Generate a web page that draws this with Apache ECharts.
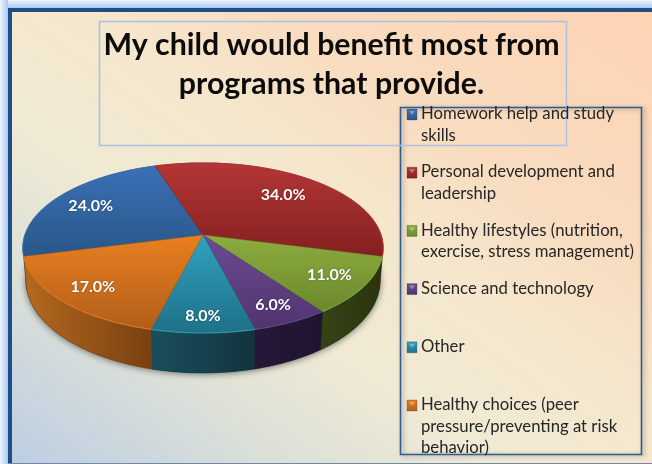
<!DOCTYPE html>
<html>
<head>
<meta charset="utf-8">
<style>html,body{margin:0;padding:0;background:#fff}#chart{width:652px;height:464px}</style>
<script src="https://cdn.jsdelivr.net/npm/echarts@6/dist/echarts.min.js"></script>
</head>
<body>
<div id="chart"></div>
<script>
// Survey answers, in percent
const categories = [
  'Homework help and study\nskills',
  'Personal development and\nleadership',
  'Healthy lifestyles (nutrition,\nexercise, stress management)',
  'Science and technology',
  'Other',
  'Healthy choices (peer\npressure/preventing at risk\nbehavior)'
];
const shares = [24, 34, 11, 6, 8, 17];
const titleLines = ['My child would benefit most from', 'programs that provide.'];

// Slice palettes: top-face gradient, then side-wall gradient
const faceLight = ['#3b70b6', '#b43636', '#8cad3f', '#6c4b92', '#30a2c0', '#ea7f20'];
const faceDark  = ['#285787', '#842020', '#6b892c', '#50346e', '#1f7088', '#b15e1a'];
const wallLight = ['#2a4d78', '#661c1c', '#364414', '#261838', '#1a4e5c', '#b5691f'];
const wallDark  = ['#1e3a5c', '#4e1414', '#2a340e', '#1f1430', '#12343e', '#784010'];

// How far out along each slice's middle its percentage sits (1 = rim)
const labelReach = [0.76, 0.71, 0.8, 0.82, 0.85, 0.8];
const firstSliceAngle = 255.6;

// Perspective view of the disc: the far side is foreshortened, the hub sits above the ellipse centre
const hubX = 203;
const topPlane = { a: 178, b: 83, y0: 235, k: 0.153 };
const basePlane = { a: 175, b: 90, y0: 266.7, k: 0.153 };

function project(plane, deg, r) {
  const t = deg * Math.PI / 180;
  const u = r * Math.sin(t), v = -r * Math.cos(t);
  const w = 1 - plane.k * v;
  return [hubX + plane.a * u / w, plane.y0 + plane.b * v / w];
}
function arc(plane, from, to) {
  const n = Math.max(2, Math.ceil((to - from) / 1.5));
  const pts = [];
  for (let i = 0; i <= n; i++) pts.push(project(plane, from + (to - from) * i / n, 1));
  return pts;
}
const total = shares.reduce((s, v) => s + v, 0);
function sliceRange(i) {
  let start = firstSliceAngle;
  for (let j = 0; j < i; j++) start += shares[j] / total * 360;
  return [start, start + shares[i] / total * 360];
}
const grad = (x2, y2, c1, c2) => new echarts.graphic.LinearGradient(0, 0, x2, y2, [
  { offset: 0, color: c1 }, { offset: 1, color: c2 }
]);
const rows = categories.map((name, i) => ({ name, value: shares[i] }));

function renderWall(params, api) {
  const i = params.dataIndex;
  const [from, to] = sliceRange(i);
  const children = [];
  if (i === 0) {
    // soft contact shadow under the whole disc
    children.push({
      type: 'polygon',
      shape: { points: arc(basePlane, 0, 360) },
      style: { fill: '#444', shadowBlur: 7, shadowColor: 'rgba(40,40,40,0.65)', shadowOffsetY: 1 }
    });
  }
  children.push({
    type: 'polygon',
    shape: { points: arc(topPlane, from, to).concat(arc(basePlane, from, to).reverse()) },
    style: { fill: grad(1, 0, wallLight[i], wallDark[i]), stroke: wallDark[i], lineWidth: 0.5 }
  });
  return { type: 'group', children };
}

function renderFace(params) {
  const i = params.dataIndex;
  const [from, to] = sliceRange(i);
  const rim = arc(topPlane, from, to);
  return {
    type: 'group',
    children: [
      {
        type: 'polygon',
        shape: { points: [project(topPlane, 0, 0)].concat(rim) },
        style: { fill: grad(0, 1, faceLight[i], faceDark[i]), stroke: faceDark[i], lineWidth: 0.4 }
      },
      {
        type: 'polyline',
        shape: { points: rim },
        style: { fill: null, stroke: faceLight[i], lineWidth: 1.2, opacity: 0.8 }
      }
    ]
  };
}

function renderValueLabel(params) {
  const i = params.dataIndex;
  const [from, to] = sliceRange(i);
  const [x, y] = project(topPlane, (from + to) / 2, labelReach[i]);
  return {
    type: 'text',
    x, y,
    style: {
      text: shares[i].toFixed(1) + '%',
      fill: '#fff',
      font: 'bold 16px Lato, sans-serif',
      align: 'center',
      verticalAlign: 'middle',
      textShadowColor: 'rgba(0,0,0,0.35)',
      textShadowBlur: 2
    }
  };
}

// Key entries run at an even pitch whatever their line count
function renderKey(params) {
  const i = params.dataIndex;
  const rowY = 114 + i * 58.2;
  return {
    type: 'group',
    children: [
      {
        type: 'rect',
        shape: { x: 407, y: rowY - 5, width: 10, height: 11 },
        style: { fill: grad(0, 1, faceLight[i], faceDark[i]), stroke: 'rgba(60,60,60,0.5)', lineWidth: 0.6 }
      },
      {
        type: 'polygon',
        shape: { points: [[409, rowY - 3], [415, rowY - 3], [412, rowY + 1]] },
        style: { fill: 'rgba(255,255,255,0.35)' }
      },
      {
        type: 'text',
        x: 421,
        y: rowY - 11,
        style: {
          text: categories[i],
          fill: '#262626',
          font: '16.7px Lato, sans-serif',
          lineHeight: 21.6,
          align: 'left',
          verticalAlign: 'top'
        }
      }
    ]
  };
}

const chart = echarts.init(document.getElementById('chart'), null, { renderer: 'canvas' });
const customSeries = (name, renderItem) => ({
  type: 'custom', name, coordinateSystem: 'none', silent: true, animation: false,
  renderItem, data: rows
});
chart.setOption({
  animation: false,
  // Diagonal wash from the lower-left corner to the upper-right corner
  backgroundColor: new echarts.graphic.LinearGradient(0, 1, 0.672, -0.328, [
    { offset: 0, color: '#bbcde3' },
    { offset: 0.22, color: '#dbe0d8' },
    { offset: 0.38, color: '#f0ead4' },
    { offset: 0.55, color: '#f5e7cd' },
    { offset: 0.7, color: '#f8dcc0' },
    { offset: 1, color: '#fed3b3' }
  ]),
  title: {
    text: titleLines.join('\n'),
    left: 326.5, top: 21, textAlign: 'center',
    textStyle: { fontFamily: 'Lato, sans-serif', fontSize: 30.3, fontWeight: 'bold', color: '#0c0c0c', lineHeight: 39 }
  },
  graphic: { elements: [
    { type: 'rect', z: -1, shape: { x: 0, y: 0, width: 652, height: 8 },
      style: { fill: grad(0, 1, '#eef4fd', '#a9c9f2') } },
    { type: 'rect', z: -1, shape: { x: 0, y: 0, width: 8, height: 464 },
      style: { fill: grad(1, 0, '#eef4fd', '#a9c9f2') } },
    { type: 'rect', z: -1, shape: { x: 8, y: 8, width: 660, height: 4 }, style: { fill: '#1f4e86' } },
    { type: 'rect', z: -1, shape: { x: 8, y: 8, width: 4, height: 456 }, style: { fill: '#1f4e86' } },
    { type: 'rect', z: -1, shape: { x: 8, y: 463, width: 644, height: 1 }, style: { fill: '#6f87a8' } },
    { type: 'rect', z: -1, shape: { x: 400.5, y: 107.5, width: 241, height: 347 },
      style: { fill: null, stroke: '#2f5c96', lineWidth: 1.6,
        shadowColor: 'rgba(60,50,40,0.45)', shadowBlur: 4, shadowOffsetX: 2, shadowOffsetY: 1 } },
    { type: 'rect', z: -1, shape: { x: 99.5, y: 21.5, width: 467, height: 124 },
      style: { fill: null, stroke: '#aac0e8', lineWidth: 1.5 } }
  ] },
  series: [
    customSeries('walls', renderWall),
    customSeries('faces', renderFace),
    customSeries('labels', renderValueLabel),
    customSeries('key', renderKey)
  ]
});
</script>
</body>
</html>
